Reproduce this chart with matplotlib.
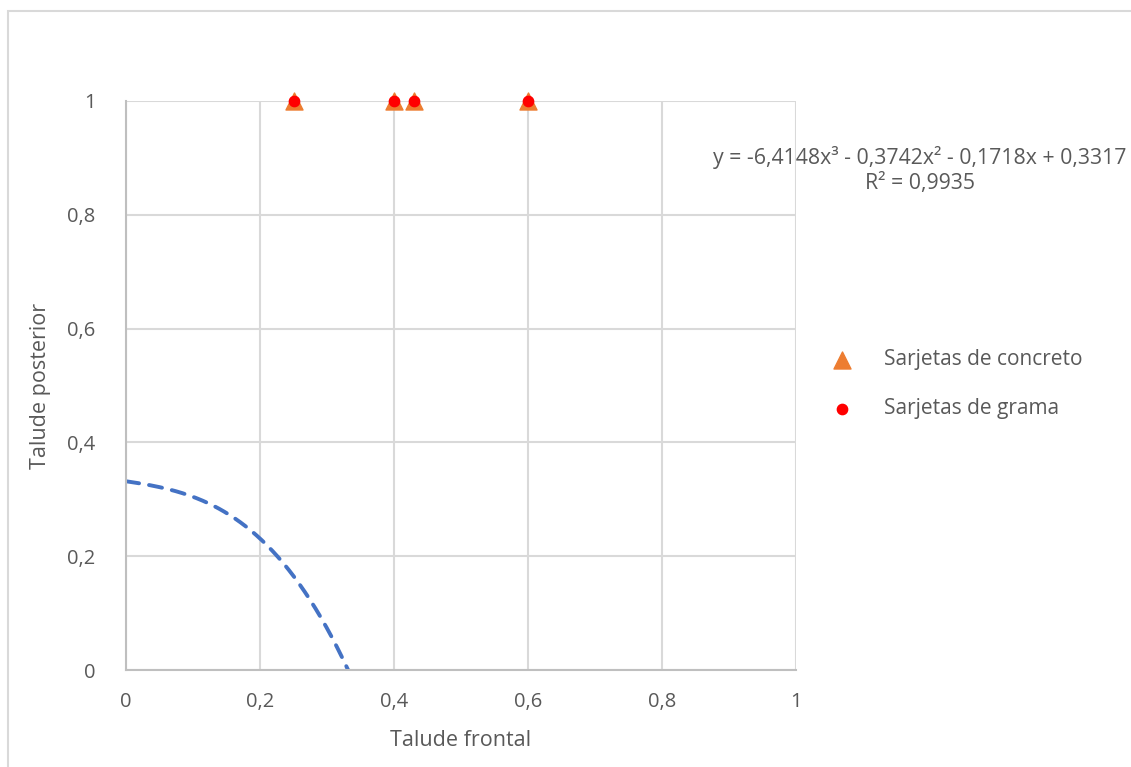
import matplotlib.pyplot as plt
import numpy as np
from matplotlib.patches import Rectangle

# scatter data (Talude frontal x Talude posterior)
concreto_x = [0.25, 0.40, 0.43, 0.60]
concreto_y = [1, 1, 1, 1]
grama_x = [0.25, 0.40, 0.43, 0.60]
grama_y = [1, 1, 1, 1]

# cubic trendline coefficients, highest power first
trend_coef = [-6.4148, -0.3742, -0.1718, 0.3317]
trend_r2 = 0.9935

ticks = [0, 0.2, 0.4, 0.6, 0.8, 1]
tick_labels = ['0', '0,2', '0,4', '0,6', '0,8', '1']

plt.rcParams['font.family'] = ['Open Sans', 'DejaVu Sans']
text_color = '#595959'

fig = plt.figure(figsize=(11.31, 7.67), dpi=100)
ax = fig.add_axes([126 / 1131, 1 - 670 / 767, 670 / 1131, 569 / 767])

# chart frame
fig.patches.append(Rectangle((8 / 1131, -0.01), 1.1, 1 - 11 / 767 + 0.01,
                             transform=fig.transFigure, fill=False,
                             edgecolor='#d9d9d9', linewidth=1.5))

# trendline
xs = np.linspace(0, 0.6, 300)
ys = np.polyval(trend_coef, xs)
ax.plot(xs, ys, color='#4472C4', linewidth=2.8, linestyle=(0, (3.4, 2.6)),
        dash_capstyle='round', zorder=2)

ax.scatter(concreto_x, concreto_y, marker='^', s=150, color='#ED7D31',
           label='Sarjetas de concreto', zorder=3, clip_on=False)
ax.scatter(grama_x, grama_y, marker='o', s=55, color='#FF0000',
           label='Sarjetas de grama', zorder=4, clip_on=False)

ax.set_xlim(0, 1)
ax.set_ylim(0, 1)
ax.set_xticks(ticks)
ax.set_xticklabels(tick_labels)
ax.set_yticks(ticks)
ax.set_yticklabels(tick_labels)
ax.tick_params(length=0, labelsize=14.5, labelcolor=text_color)
ax.tick_params(axis='x', pad=16)
ax.tick_params(axis='y', pad=22)
ax.grid(True, color='#d9d9d9', linewidth=1.5, zorder=0)
ax.set_axisbelow(True)
for side in ['top', 'right']:
    ax.spines[side].set_visible(False)
for side in ['left', 'bottom']:
    ax.spines[side].set_color('#bfbfbf')
    ax.spines[side].set_linewidth(1.5)

ax.set_xlabel('Talude frontal', fontsize=15.5, color=text_color, labelpad=13)
ax.set_ylabel('Talude posterior', fontsize=15.5, color=text_color, labelpad=12)

eq = ('y = -6,4148x³ - 0,3742x² - 0,1718x + 0,3317\nR² = '
      + f'{trend_r2:.4f}'.replace('.', ','))
fig.text(920 / 1131, 1 - 170 / 767, eq, ha='center', va='center',
         fontsize=15.3, color=text_color, linespacing=1.2)

leg = ax.legend(loc='upper left', bbox_to_anchor=(1.01, 0.597), frameon=False,
                fontsize=15, labelcolor=text_color, handletextpad=1.0,
                labelspacing=1.35, scatterpoints=1)

fig.savefig('out.png', dpi=100)
